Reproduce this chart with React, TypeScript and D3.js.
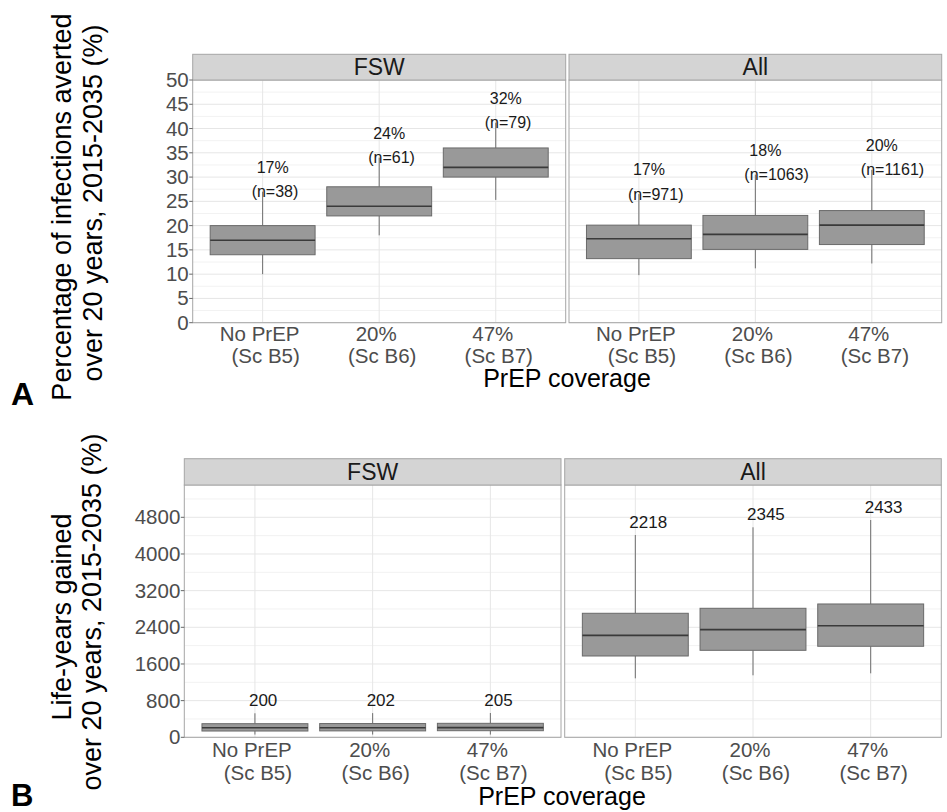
import * as d3 from "d3";

// categories
const coverage = ["No PrEP", "20%", "47%"];
const scenario = ["(Sc B5)", "(Sc B6)", "(Sc B7)"];
const groups = ["FSW", "All"];

// A: percentage of infections averted (box stats per group)
const aLow = [[10, 18, 25.3], [9.8, 11.2, 12.2]];
const aQ1 = [[14, 22, 30], [13.2, 15.1, 16.1]];
const aMed = [[17, 24, 32], [17.3, 18.2, 20.1]];
const aQ3 = [[20, 28, 36], [20.1, 22.1, 23.1]];
const aHigh = [[27, 34, 41.2], [26.5, 30.5, 31.5]];
const aPctLabels = [["17%", "24%", "32%"], ["17%", "18%", "20%"]];
const aN = [[38, 61, 79], [971, 1063, 1161]];
const aTicks = [0, 5, 10, 15, 20, 25, 30, 35, 40, 45, 50];

// B: life-years gained
const bLow = [[60, 60, 60], [1287, 1353, 1396]];
const bQ1 = [[137, 140, 144], [1774, 1898, 1986]];
const bMed = [[210, 210, 212], [2225, 2349, 2435]];
const bQ3 = [[297, 300, 305], [2706, 2815, 2909]];
const bHigh = [[524, 528, 530], [4414, 4582, 4741]];
const bLabels = [["200", "202", "205"], ["2218", "2345", "2433"]];
const bTicks = [0, 800, 1600, 2400, 3200, 4000, 4800];

const FONT = "'Liberation Sans', Arial, Helvetica, sans-serif";

type PanelSpec = {
  stripTop: number;
  top: number;
  bottom: number;
  xs: [number, number][];
  yDomain: [number, number];
  ticks: number[];
  low: number[][];
  q1: number[][];
  med: number[][];
  q3: number[][];
  high: number[][];
  tickLine1: number;
  tickLine2: number;
};

function Facets({ p, labels }: { p: PanelSpec; labels: (g: number, i: number, x: number, yHigh: number) => JSX.Element }) {
  const y = d3.scaleLinear().domain(p.yDomain).range([p.bottom, p.top]);
  const step = p.ticks[1] - p.ticks[0];
  const minor = p.ticks.map((t) => t + step / 2).filter((t) => y(t) > p.top);
  const left = p.xs[0][0];
  return (
    <g>
      {p.xs.map(([x0, x1], g) => {
        const x = d3.scaleLinear().domain([0.4, 3.6]).range([x0, x1]);
        const unit = x(1) - x(0);
        return (
          <g key={g}>
            <rect x={x0} y={p.top} width={x1 - x0} height={p.bottom - p.top} fill="#fff" />
            {minor.map((t) => (
              <line key={"m" + t} x1={x0} x2={x1} y1={y(t)} y2={y(t)} stroke="#f2f2f2" />
            ))}
            {p.ticks.map((t) => (
              <line key={"M" + t} x1={x0} x2={x1} y1={y(t)} y2={y(t)} stroke="#e6e6e6" />
            ))}
            {coverage.map((c, i) => (
              <line key={c} x1={x(i + 1)} x2={x(i + 1)} y1={p.top} y2={p.bottom} stroke="#e6e6e6" />
            ))}
            {coverage.map((c, i) => {
              const cx = x(i + 1);
              const hw = unit * 0.45;
              return (
                <g key={"b" + c}>
                  <line x1={cx} x2={cx} y1={y(p.high[g][i])} y2={y(p.q3[g][i])} stroke="#6e6e6e" />
                  <line x1={cx} x2={cx} y1={y(p.q1[g][i])} y2={y(p.low[g][i])} stroke="#6e6e6e" />
                  <rect
                    x={cx - hw}
                    y={y(p.q3[g][i])}
                    width={hw * 2}
                    height={y(p.q1[g][i]) - y(p.q3[g][i])}
                    fill="#999999"
                    stroke="#6a6a6a"
                  />
                  <line x1={cx - hw} x2={cx + hw} y1={y(p.med[g][i])} y2={y(p.med[g][i])} stroke="#3a3a3a" strokeWidth={1.6} />
                  {labels(g, i, cx, y(p.high[g][i]))}
                  <text x={cx - 3} y={p.tickLine1} textAnchor="middle" fontSize={20.5} fill="#4d4d4d">
                    {c}
                  </text>
                  <text x={cx + 3} y={p.tickLine2} textAnchor="middle" fontSize={20.5} fill="#4d4d4d">
                    {scenario[i]}
                  </text>
                </g>
              );
            })}
            <rect x={x0} y={p.top} width={x1 - x0} height={p.bottom - p.top} fill="none" stroke="#a6a6a6" />
            <rect x={x0} y={p.stripTop} width={x1 - x0} height={p.top - p.stripTop} fill="#d4d4d4" stroke="#a6a6a6" />
            <text x={(x0 + x1) / 2} y={(p.stripTop + p.top) / 2 + 8} textAnchor="middle" fontSize={23} fill="#1a1a1a">
              {groups[g]}
            </text>
          </g>
        );
      })}
      {p.ticks.map((t) => (
        <g key={"t" + t}>
          <line x1={left - 3.5} x2={left} y1={y(t)} y2={y(t)} stroke="#666" />
          <text x={left - 4} y={y(t) + 7} textAnchor="end" fontSize={20.5} fill="#4d4d4d">
            {t}
          </text>
        </g>
      ))}
    </g>
  );
}

export default function App() {
  const panelA: PanelSpec = {
    stripTop: 54.3,
    top: 80,
    bottom: 322.7,
    xs: [
      [192.7, 565.7],
      [569, 941.7],
    ],
    yDomain: [0, 50],
    ticks: aTicks,
    low: aLow,
    q1: aQ1,
    med: aMed,
    q3: aQ3,
    high: aHigh,
    tickLine1: 340.5,
    tickLine2: 362.7,
  };
  const panelB: PanelSpec = {
    stripTop: 458.7,
    top: 485,
    bottom: 737.3,
    xs: [
      [184.3, 561],
      [564.7, 941.3],
    ],
    yDomain: [0, 5505],
    ticks: bTicks,
    low: bLow,
    q1: bQ1,
    med: bMed,
    q3: bQ3,
    high: bHigh,
    tickLine1: 757,
    tickLine2: 780.3,
  };

  return (
    <svg
      width={947}
      height={812}
      style={{ position: "absolute", left: 0, top: 0, background: "#fff" }}
      fontFamily={FONT}
    >
      <rect width={947} height={812} fill="#fff" />
      <Facets
        p={panelA}
        labels={(g, i, cx, yh) => (
          <g fontSize={16} fill="#1a1a1a">
            <text x={cx - 6} y={yh - 19}>{aPctLabels[g][i]}</text>
            <text x={cx - 11} y={yh + 5.5}>{`(n=${aN[g][i]})`}</text>
          </g>
        )}
      />
      <Facets
        p={panelB}
        labels={(g, i, cx, yh) => (
          <text x={cx - 6} y={yh - 7} fontSize={17} fill="#1a1a1a">
            {bLabels[g][i]}
          </text>
        )}
      />

      {/* axis titles */}
      <g fontSize={27} fill="#000" textAnchor="middle">
        <text transform="translate(71,207) rotate(-90)">Percentage of infections averted</text>
        <text transform="translate(102,203) rotate(-90)">over 20 years, 2015-2035 (%)</text>
        <text transform="translate(71,617) rotate(-90)">Life-years gained</text>
        <text transform="translate(101,612) rotate(-90)">over 20 years, 2015-2035 (%)</text>
      </g>
      <g fontSize={25} fill="#000" textAnchor="middle">
        <text x={567} y={387}>PrEP coverage</text>
        <text x={562} y={805}>PrEP coverage</text>
      </g>
      <text x={11} y={405} fontSize={32} fontWeight="bold">A</text>
      <text x={11} y={806} fontSize={31} fontWeight="bold">B</text>
    </svg>
  );
}
